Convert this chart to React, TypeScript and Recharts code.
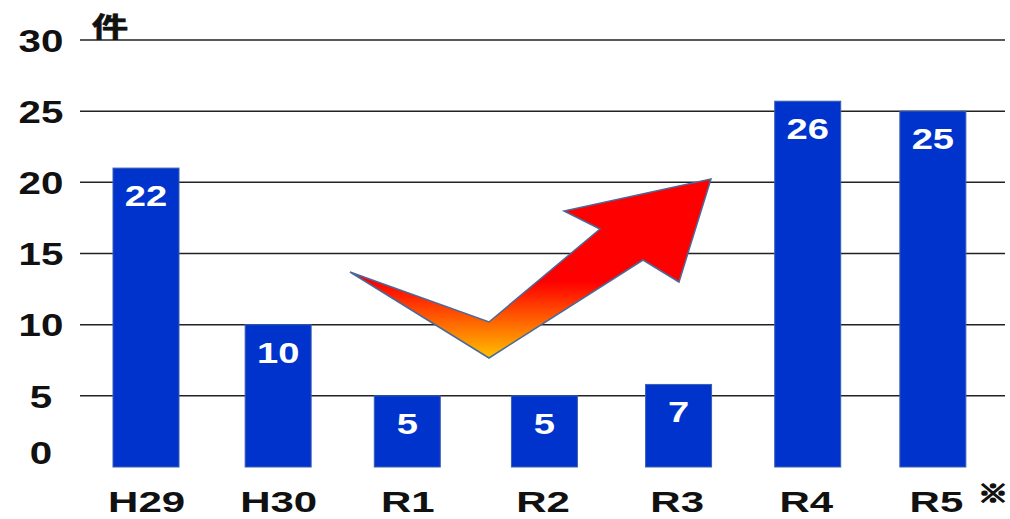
import { BarChart, Bar, XAxis, YAxis, CartesianGrid, LabelList } from 'recharts'

const years = ['H29', 'H30', 'R1', 'R2', 'R3', 'R4', 'R5']
// bar heights as drawn, the printed numbers differ slightly on some bars
const barHeights = [21, 10, 5, 5, 5.8, 25.7, 25]
const printedCounts = [22, 10, 5, 5, 7, 26, 25]
const yTicks = [0, 5, 10, 15, 20, 25, 30]
const gridValues = [5, 10, 15, 20, 25, 30]

const chartData = years.map((year, i) => ({
  year,
  height: barHeights[i],
  printed: printedCounts[i],
}))

// the original bars and labels are hand placed, not evenly spaced
const barNudge = [0, 1, -1, 5, 8, 6, 0]
const tickNudge = [1, 2, 0, 4, 7, 5, 4]

const FONT = '"Liberation Sans", Arial, sans-serif'
const CJK_FONT = '"Noto Sans CJK JP", sans-serif'

function StretchedText({ x, y, size, fill, stretch = 1.27, children }: any) {
  return (
    <text
      transform={`translate(${x},${y}) scale(${stretch},1)`}
      textAnchor="middle"
      dominantBaseline="central"
      fontFamily={FONT}
      fontWeight="bold"
      fontSize={size}
      fill={fill}
    >
      {children}
    </text>
  )
}

function YTick({ x, y, payload }: any) {
  // the zero label sits above the baseline in the original
  const dy = payload.value === 0 ? -14 : 1
  return (
    <StretchedText x={x - 31} y={y + dy} size={31} stretch={1.3} fill="#111">
      {payload.value}
    </StretchedText>
  )
}

function XTick({ x, y, payload, index }: any) {
  return (
    <StretchedText x={x + tickNudge[index]} y={y + 26.5} size={30} stretch={1.4} fill="#111">
      {payload.value}
    </StretchedText>
  )
}

function BarShape({ x, y, width, height, index }: any) {
  return (
    <rect
      x={x + barNudge[index]}
      y={y}
      width={width}
      height={height}
      fill="#0033cc"
      stroke="#3a5fb0"
      strokeWidth={1}
    />
  )
}

function BarLabel({ x, y, width, value, index }: any) {
  return (
    <StretchedText x={x + width / 2 + barNudge[index]} y={y + 27.5} size={30} fill="#fff">
      {value}
    </StretchedText>
  )
}

export default function App() {
  return (
    <div style={{ position: 'absolute', left: 0, top: 0, width: 1010, height: 519, background: '#fff' }}>
      <BarChart
        width={1010}
        height={519}
        data={chartData}
        margin={{ top: 40, right: 5, bottom: 0, left: 0 }}
        barCategoryGap={0}
      >
        <defs>
          <linearGradient id="arrowFill" x1="0" y1="0" x2="0" y2="1">
            <stop offset="0.575" stopColor="#ff0000" />
            <stop offset="1" stopColor="#ffc000" />
          </linearGradient>
        </defs>
        <CartesianGrid
          vertical={false}
          horizontalValues={gridValues}
          stroke="#222"
          strokeWidth={1.5}
        />
        <XAxis
          dataKey="year"
          height={52}
          axisLine={false}
          tickLine={false}
          padding={{ left: 0, right: 7 }}
          tick={<XTick />}
          interval={0}
        />
        <YAxis
          width={80}
          domain={[0, 30]}
          ticks={yTicks}
          axisLine={false}
          tickLine={false}
          tick={<YTick />}
          interval={0}
        />
        <Bar dataKey="height" barSize={66} shape={<BarShape />} isAnimationActive={false}>
          <LabelList dataKey="printed" content={<BarLabel />} />
        </Bar>
        <polygon
          points="350,272 489,322 600,229 564,211 711,179 679,282 643,260 489,358"
          fill="url(#arrowFill)"
          stroke="#4a6a9a"
          strokeWidth={1.5}
          strokeLinejoin="miter"
        />
        <text
          transform="translate(110,37) scale(1.35,1)"
          textAnchor="middle"
          fontFamily={CJK_FONT}
          fontWeight="bold"
          fontSize={27}
          fill="#111"
          stroke="#111"
          strokeWidth={0.6}
        >
          件
        </text>
        <text
          transform="translate(993,502) scale(1.25,1)"
          textAnchor="middle"
          fontFamily={CJK_FONT}
          fontWeight="bold"
          fontSize={24}
          fill="#111"
          stroke="#111"
          strokeWidth={1.6}
        >
          ※
        </text>
      </BarChart>
    </div>
  )
}
